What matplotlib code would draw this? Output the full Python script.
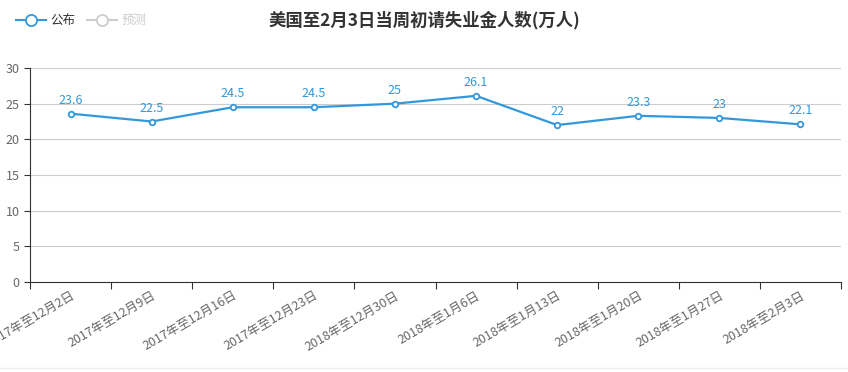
import matplotlib
matplotlib.use("Agg")
import matplotlib.pyplot as plt
from matplotlib.lines import Line2D

plt.rcParams['font.family'] = ['Noto Sans CJK SC', 'DejaVu Sans']

categories = ["2017年至12月2日", "2017年至12月9日", "2017年至12月16日", "2017年至12月23日",
              "2018年至12月30日", "2018年至1月6日", "2018年至1月13日", "2018年至1月20日",
              "2018年至1月27日", "2018年至2月3日"]
published = [23.6, 22.5, 24.5, 24.5, 25, 26.1, 22, 23.3, 23, 22.1]
y_ticks = [0, 5, 10, 15, 20, 25, 30]

blue = '#3398DB'
fig = plt.figure(figsize=(8.48, 3.72), dpi=100)
ax = fig.add_axes([30 / 848, 90 / 372, 811 / 848, 214 / 372])

x = list(range(len(categories)))
ax.plot(x, published, color=blue, lw=1.6, marker='o', ms=4, mfc='white', mec=blue, mew=1.3, zorder=3)
for xi, v in zip(x, published):
    ax.annotate(f"{v:g}", (xi, v), xytext=(0, 5), textcoords='offset points',
                ha='center', va='bottom', color=blue, fontsize=9)

ax.set_xlim(-0.5, len(categories) - 0.5)
ax.set_ylim(0, 30)
ax.set_yticks(y_ticks)
ax.yaxis.grid(True, color='#cccccc', lw=0.8)
ax.set_axisbelow(True)
for s in ['top', 'right']:
    ax.spines[s].set_visible(False)
ax.spines['left'].set_color('#333333')
ax.spines['bottom'].set_color('#333333')
ax.tick_params(axis='y', colors='#333333', labelcolor='#666666', labelsize=9, length=4)

# category ticks on boundaries, labels at centres
ax.set_xticks([i - 0.5 for i in range(len(categories) + 1)])
ax.set_xticklabels([])
ax.tick_params(axis='x', colors='#333333', length=5)
ax.set_xticks(x, minor=True)
ax.set_xticklabels(categories, minor=True, rotation=30, ha='right', rotation_mode='anchor',
                   color='#666666', fontsize=9)
ax.tick_params(axis='x', which='minor', length=0, pad=5)

fig.text(0.5, 1 - 20 / 372, "美国至2月3日当周初请失业金人数(万人)", ha='center', va='center',
         fontsize=12.5, fontweight='bold', color='#333333')

handles = [Line2D([], [], color=blue, marker='o', ms=8, mfc='white', mec=blue, mew=1.3, lw=1.5),
           Line2D([], [], color='#cccccc', marker='o', ms=8, mfc='white', mec='#cccccc', mew=1.3, lw=1.5)]
leg = fig.legend(handles, ["公布", "预测"], loc='upper left', bbox_to_anchor=(0.008, 0.985), ncol=2,
                 frameon=False, fontsize=9, handlelength=2.4, columnspacing=0.9, handletextpad=0.4,
                 borderaxespad=0.3)
leg.get_texts()[0].set_color('#333333')
leg.get_texts()[1].set_color('#cccccc')

fig.add_artist(Line2D([0, 1], [4 / 372, 4 / 372], color='#eeeeee', lw=1))

fig.savefig("out.png", dpi=100)
